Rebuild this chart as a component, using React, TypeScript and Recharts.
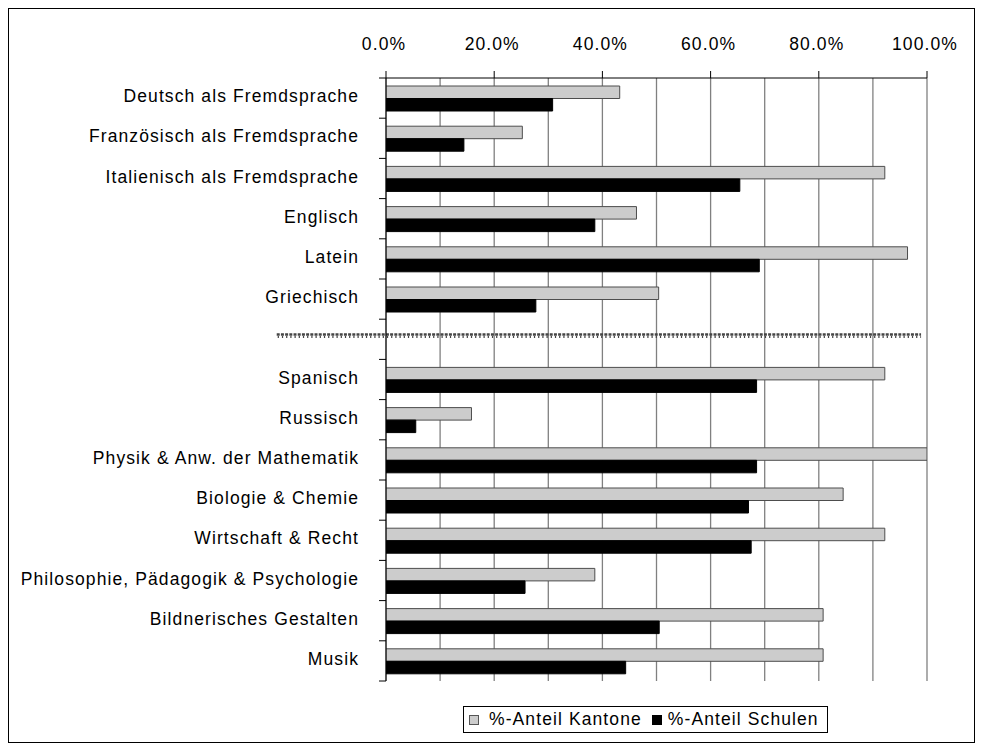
import React from "react";
import {
  BarChart,
  Bar,
  XAxis,
  YAxis,
  CartesianGrid,
  Legend,
  ReferenceLine,
} from "recharts";

const categories = [
  "Deutsch als Fremdsprache",
  "Französisch als Fremdsprache",
  "Italienisch als Fremdsprache",
  "Englisch",
  "Latein",
  "Griechisch",
  " ",
  "Spanisch",
  "Russisch",
  "Physik & Anw. der Mathematik",
  "Biologie & Chemie",
  "Wirtschaft & Recht",
  "Philosophie, Pädagogik & Psychologie",
  "Bildnerisches Gestalten",
  "Musik",
];

const anteilKantone = [43.2, 25.2, 92.2, 46.3, 96.4, 50.4, null, 92.2, 15.8, 100, 84.5, 92.2, 38.6, 80.8, 80.8];
const anteilSchulen = [30.8, 14.4, 65.4, 38.6, 69.0, 27.7, null, 68.5, 5.5, 68.5, 67.0, 67.5, 25.7, 50.5, 44.3];

const gridTicks = [0, 10, 20, 30, 40, 50, 60, 70, 80, 90, 100];
const labeledTicks = [0, 20, 40, 60, 80, 100];

const seriesNames = ["%-Anteil Kantone", "%-Anteil Schulen"];
const separatorCategory = " ";

const data = categories.map((name, i) => ({
  name,
  kantone: anteilKantone[i],
  schulen: anteilSchulen[i],
}));

const FONT = "'Liberation Sans', Arial, sans-serif";
const FS = 17.5;
const LS = 1.1;

const W = 967;
const H = 743;
const MARGIN = { top: 0, right: 48, bottom: 70, left: 0 };
const YAXIS_W = 378;
const XAXIS_H = 70;
const PLOT_H = H - MARGIN.top - MARGIN.bottom - XAXIS_H;
const BAND = PLOT_H / categories.length;

const XTick = (props: any) => {
  const { x, y, payload } = props;
  if (!labeledTicks.includes(payload.value)) return <g />;
  return (
    <g>
      <line x1={x} y1={y} x2={x} y2={y - 7} stroke="#000" strokeWidth={1} />
      <text
        x={x - 2}
        y={y - 28}
        textAnchor="middle"
        fontFamily={FONT}
        fontSize={FS}
        letterSpacing={LS}
        fill="#000"
      >
        {payload.value.toFixed(1) + "%"}
      </text>
    </g>
  );
};

const YTick = (props: any) => {
  const { x, y, payload, index } = props;
  const top = y - BAND / 2;
  const bottom = y + BAND / 2;
  return (
    <g>
      <line x1={x - 7} y1={top} x2={x} y2={top} stroke="#000" strokeWidth={1} />
      {index === categories.length - 1 && (
        <line x1={x - 7} y1={bottom} x2={x} y2={bottom} stroke="#000" strokeWidth={1} />
      )}
      {payload.value !== separatorCategory && (
        <text
          x={x - 27}
          y={y + 4}
          textAnchor="end"
          fontFamily={FONT}
          fontSize={FS}
          letterSpacing={LS}
          fill="#000"
        >
          {payload.value}
        </text>
      )}
    </g>
  );
};

const SeparatorShape = (props: any) => {
  const { x1, y1, x2 } = props;
  return (
    <g>
      <line
        x1={x1}
        y1={y1 - 4.8}
        x2={x2}
        y2={y1 - 4.8}
        stroke="#444"
        strokeWidth={2.6}
        strokeDasharray="3 1.2"
      />
      <line
        x1={x1 + 1}
        y1={y1 - 2.4}
        x2={x2}
        y2={y1 - 2.4}
        stroke="#444"
        strokeWidth={2}
        strokeDasharray="1.2 3"
      />
    </g>
  );
};

const LegendContent = () => (
  <div
    style={{
      display: "inline-flex",
      alignItems: "center",
      boxSizing: "border-box",
      height: 27,
      border: "1px solid #000",
      background: "#fff",
      padding: "0 8px 0 5px",
      fontFamily: FONT,
      fontSize: FS,
      letterSpacing: LS,
      color: "#000",
      whiteSpace: "nowrap",
    }}
  >
    <span
      style={{
        display: "inline-block",
        width: 8,
        height: 8,
        background: "#cccccc",
        border: "1px solid #555",
        marginRight: 10,
      }}
    />
    <span>{seriesNames[0]}</span>
    <span
      style={{
        display: "inline-block",
        width: 10,
        height: 10,
        background: "#000",
        marginLeft: 10,
        marginRight: 6,
      }}
    />
    <span>{seriesNames[1]}</span>
  </div>
);

export default function App() {
  return (
    <div style={{ position: "relative", width: W, height: H }}>
      <div
        style={{
          position: "absolute",
          left: 0,
          top: 0,
          width: W,
          height: 735,
          boxSizing: "border-box",
          border: "1px solid #000",
          pointerEvents: "none",
        }}
      />
      <BarChart
        width={W}
        height={H}
        data={data}
        layout="vertical"
        margin={MARGIN}
        barGap={0}
        barSize={12.5}
      >
        <CartesianGrid horizontal={false} vertical={true} stroke="#808080" strokeWidth={1.3} />
        <XAxis
          type="number"
          orientation="top"
          domain={[0, 100]}
          ticks={gridTicks}
          interval={0}
          height={XAXIS_H}
          allowDataOverflow
          axisLine={{ stroke: "#000", strokeWidth: 1 }}
          tickLine={false}
          tickSize={0}
          tickMargin={0}
          tick={<XTick />}
        />
        <YAxis
          type="category"
          dataKey="name"
          width={YAXIS_W}
          interval={0}
          axisLine={{ stroke: "#000", strokeWidth: 1 }}
          tickLine={false}
          tickSize={0}
          tickMargin={0}
          tick={<YTick />}
        />
        <Bar
          dataKey="kantone"
          name={seriesNames[0]}
          fill="#cccccc"
          stroke="#4d4d4d"
          strokeWidth={1}
          isAnimationActive={false}
        />
        <Bar
          dataKey="schulen"
          name={seriesNames[1]}
          fill="#000000"
          stroke="#000000"
          strokeWidth={1}
          isAnimationActive={false}
        />
        <ReferenceLine
          segment={[
            { x: -20.2, y: separatorCategory },
            { x: 98.9, y: separatorCategory },
          ]}
          ifOverflow="visible"
          shape={SeparatorShape}
        />
        <Legend
          layout="vertical"
          align="center"
          verticalAlign="middle"
          content={<LegendContent />}
          wrapperStyle={{ left: 455, top: 698, width: "auto", height: "auto" }}
        />
      </BarChart>
    </div>
  );
}
